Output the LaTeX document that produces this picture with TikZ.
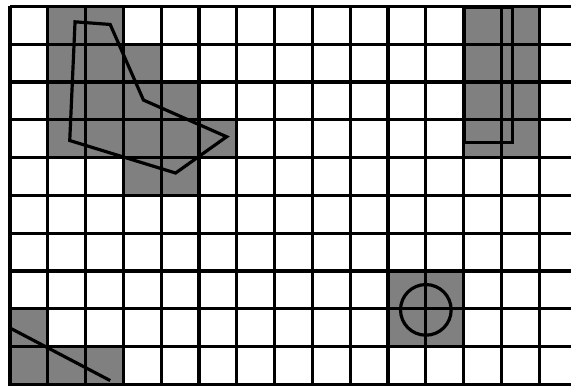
\documentclass[tikz,border=0pt]{standalone}
\begin{document}
\begin{tikzpicture}[
  cellfill/.style={fill=gray},
  gridline/.style={line width=2.4pt, black},
  outline/.style={line width=2.4pt, black, line join=miter}
]
\useasboundingbox (-0.265,0.167) rectangle (14.84,-10.02);
\clip (-0.265,0.167) rectangle (14.84,-10.02);
\fill[white] (-0.265,0.167) rectangle (14.84,-10.02);
% shaded cells: (col,row)
\foreach \c/\r in {1/0,2/0,1/1,2/1,3/1,1/2,2/2,3/2,4/2,1/3,2/3,3/3,4/3,5/3,3/4,4/4,
                   12/0,13/0,12/1,13/1,12/2,13/2,12/3,13/3,
                   10/7,11/7,10/8,11/8,
                   0/8,0/9,1/9,2/9}
  \fill[cellfill] (\c,-\r) rectangle ++(1,-1);
% grid
\foreach \x in {0,...,15} \draw[gridline] (\x,0) -- (\x,-11);
\foreach \y in {0,...,10} \draw[gridline] (0,-\y) -- (16,-\y);
% shapes
\draw[outline] (1.72,-0.41) -- (2.65,-0.48) -- (3.53,-2.48) -- (5.73,-3.45) -- (4.38,-4.41) -- (1.58,-3.55) -- cycle;
\draw[outline] (12.02,-0.03) rectangle (13.3,-3.6);
\draw[outline] (11,-8.03) circle (0.67);
\draw[outline] (0,-8.51) -- (2.65,-9.9);
\end{tikzpicture}
\end{document}
